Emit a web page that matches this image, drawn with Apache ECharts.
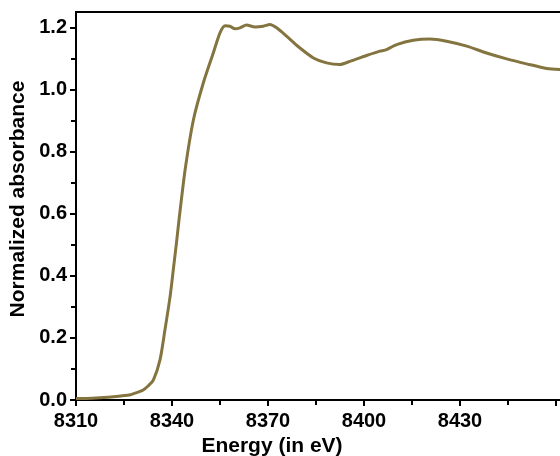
<!DOCTYPE html>
<html>
<head>
<meta charset="utf-8">
<script src="https://cdn.jsdelivr.net/npm/echarts@6/dist/echarts.min.js"></script>
<style>
html,body{margin:0;padding:0;background:#fff;}
#c{width:560px;height:456px;}
</style>
</head>
<body>
<div id="c"></div>
<script>
const energy = [8310, 8315, 8320, 8324, 8327, 8329, 8331, 8332.5, 8334.2, 8336.25, 8337.8, 8339.4, 8340.4, 8341.5, 8342.2, 8344.1, 8346.7, 8349.8, 8352.9, 8355, 8356.6, 8358.1, 8359.7, 8361.25, 8363.3, 8365.9, 8368.5, 8370.6, 8372.7, 8375.8, 8379.5, 8384.2, 8388.3, 8392.5, 8395.6, 8400.8, 8405, 8406.6, 8410.2, 8415.4, 8420.6, 8425.8, 8432.1, 8438.3, 8444.6, 8450.8, 8457.1, 8461.9];
const absorbance = [0.005, 0.006, 0.009, 0.013, 0.017, 0.024, 0.032, 0.045, 0.065, 0.129, 0.226, 0.333, 0.419, 0.516, 0.581, 0.742, 0.903, 1.022, 1.118, 1.183, 1.206, 1.204, 1.196, 1.199, 1.208, 1.202, 1.204, 1.21, 1.199, 1.172, 1.138, 1.102, 1.086, 1.081, 1.091, 1.110, 1.124, 1.127, 1.145, 1.159, 1.163, 1.156, 1.140, 1.118, 1.099, 1.083, 1.068, 1.064];
const xTickLabels = [8310, 8340, 8370, 8400, 8430];
const xTicks = [8310, 8340, 8370, 8400, 8430, 8460];
const yTickLabels = [0, 0.2, 0.4, 0.6, 0.8, 1.0, 1.2];

const font = '"Liberation Sans", Arial, sans-serif';
const chart = echarts.init(document.getElementById('c'));
chart.setOption({
  animation: false,
  backgroundColor: '#fff',
  grid: { left: 76, top: 12, right: -2, bottom: 56, outerBoundsMode: 'none', containLabel: false,
    show: true, borderColor: '#000', borderWidth: 2, backgroundColor: 'transparent' },
  xAxis: {
    type: 'value', min: 8310, max: 8461.875, interval: 30,
    name: 'Energy (in eV)', nameLocation: 'middle', nameGap: 33,
    nameTextStyle: { fontFamily: font, fontWeight: 'bold', fontSize: 21, color: '#000', padding: [0, 94, 0, 0] },
    axisLine: { onZero: false, lineStyle: { color: '#000', width: 2 } },
    axisTick: { show: true, inside: false, length: 6, lineStyle: { color: '#000', width: 2 }, customValues: xTicks },
    minorTick: { show: true, splitNumber: 2, length: 5, lineStyle: { color: '#000', width: 2 } },
    axisLabel: { customValues: xTickLabels, margin: 11, fontFamily: font, fontWeight: 'bold', fontSize: 20, color: '#000',
      formatter: v => String(v) },
    splitLine: { show: false }
  },
  yAxis: {
    type: 'value', min: 0, max: 1.25, interval: 0.2,
    name: 'Normalized absorbance', nameLocation: 'middle', nameGap: 43, nameRotate: 90,
    nameTextStyle: { fontFamily: font, fontWeight: 'bold', fontSize: 21, color: '#000', padding: [0, 0, 0, 14] },
    axisLine: { show: true, onZero: false, lineStyle: { color: '#000', width: 2 } },
    axisTick: { show: true, inside: false, length: 6, lineStyle: { color: '#000', width: 2 }, customValues: yTickLabels },
    minorTick: { show: true, splitNumber: 2, length: 5, lineStyle: { color: '#000', width: 2 } },
    axisLabel: { customValues: yTickLabels, margin: 9, fontFamily: font, fontWeight: 'bold', fontSize: 20, color: '#000',
      formatter: v => v.toFixed(1) },
    splitLine: { show: false }
  },
  series: [{
    type: 'line',
    data: energy.map((e, i) => [e, absorbance[i]]),
    showSymbol: false, smooth: 0.25,
    lineStyle: { color: '#84743f', width: 3 }
  }]
});
</script>
</body>
</html>
